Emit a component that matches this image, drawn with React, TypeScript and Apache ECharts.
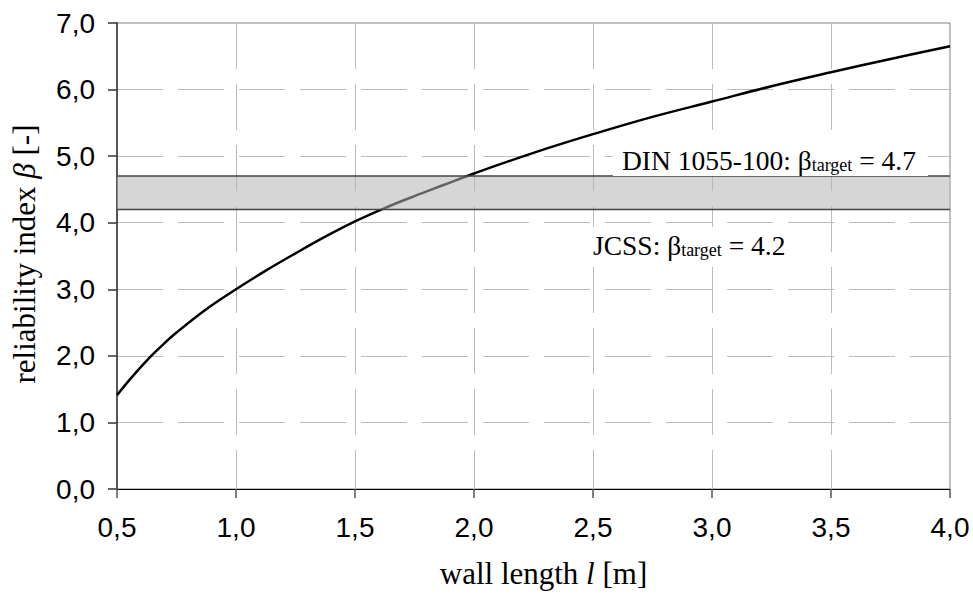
import React, { useEffect, useRef } from "react";
import * as echarts from "echarts";

const wallLength = [0.5, 0.5625, 0.625, 0.6875, 0.75, 0.875, 1.0, 1.125, 1.25, 1.375, 1.5, 1.625, 1.75, 1.875, 2.0, 2.25, 2.5, 2.75, 3.0, 3.25, 3.5, 3.75, 4.0];
const beta = [1.41, 1.68, 1.93, 2.15, 2.35, 2.70, 3.0, 3.28, 3.54, 3.79, 4.02, 4.22, 4.4, 4.57, 4.74, 5.05, 5.33, 5.59, 5.82, 6.05, 6.26, 6.46, 6.65];
const bandRange = [0.5, 4.0];
const betaJCSS = 4.2;
const betaDIN = 4.7;
const xTicks = { min: 0.5, max: 4.0, interval: 0.5 };
const yTicks = { min: 0, max: 7, interval: 1 };

const SERIF = "'Liberation Serif', 'Times New Roman', serif";
const SANS = "'Liberation Sans', Arial, sans-serif";

const fmt = (v: number) => v.toFixed(1).replace(".", ",");

export default function App() {
  const ref = useRef<HTMLDivElement>(null);
  useEffect(() => {
    if (!ref.current) return;
    const chart = echarts.init(ref.current, null, { renderer: "svg" });
    const richLabel = {
      n: { fontFamily: SERIF, fontSize: 27.5, lineHeight: 30, color: "#000", verticalAlign: "bottom" },
      s: { fontFamily: SERIF, fontSize: 18, lineHeight: 16, color: "#000", verticalAlign: "bottom" },
    };
    chart.setOption({
      animation: false,
      backgroundColor: "#fff",
      grid: {
        left: 117,
        right: 23,
        top: 23,
        bottom: 96,
        show: true,
        borderColor: "#808080",
        borderWidth: 1,
        backgroundColor: "transparent",
      },
      xAxis: {
        type: "value",
        min: xTicks.min,
        max: xTicks.max,
        interval: xTicks.interval,
        name: "{a|wall length }{i|l}{a| [m]}",
        nameLocation: "middle",
        nameGap: 69,
        nameTextStyle: {
          padding: [0, 0, 0, 20],
          rich: {
            a: { fontFamily: SERIF, fontSize: 31, color: "#000" },
            i: { fontFamily: SERIF, fontSize: 31, fontStyle: "italic", color: "#000" },
          },
        },
        axisLine: { show: true, onZero: false, lineStyle: { color: "#000", width: 1 } },
        axisTick: { show: true, inside: false, length: 9, lineStyle: { color: "#555", width: 1.5 } },
        axisLabel: { fontFamily: SANS, fontSize: 28, color: "#000", margin: 24, formatter: fmt },
        splitLine: {
          show: true,
          showMinLine: false,
          showMaxLine: false,
          lineStyle: { color: "#bbbbbb", width: 1, type: [46, 15] },
        },
      },
      yAxis: {
        type: "value",
        min: yTicks.min,
        max: yTicks.max,
        interval: yTicks.interval,
        name: "{a|reliability index }{i|β}{a| [-]}",
        nameLocation: "middle",
        nameGap: 77,
        nameTextStyle: {
          padding: [0, 0, 0, 4],
          rich: {
            a: { fontFamily: SERIF, fontSize: 31, color: "#000" },
            i: { fontFamily: SERIF, fontSize: 31, fontStyle: "italic", color: "#000" },
          },
        },
        axisLine: { show: true, onZero: false, lineStyle: { color: "#555", width: 2 } },
        axisTick: { show: true, inside: false, length: 9, lineStyle: { color: "#333", width: 1.5 } },
        axisLabel: { fontFamily: SANS, fontSize: 28, color: "#000", margin: 22, formatter: fmt },
        splitLine: {
          show: true,
          showMinLine: false,
          showMaxLine: false,
          lineStyle: { color: "#bbbbbb", width: 1, type: [46, 15] },
        },
      },
      series: [
        {
          type: "line",
          data: wallLength.map((x, i) => [x, beta[i]]),
          smooth: 0.4,
          showSymbol: false,
          symbol: "none",
          lineStyle: { color: "#000", width: 2.5 },
          z: 2,
        },
        {
          type: "custom",
          z: 3,
          silent: true,
          data: [[bandRange[0], betaJCSS, bandRange[1], betaDIN]],
          encode: { x: [0, 2], y: [1, 3] },
          renderItem: (params: any, api: any) => {
            const p1 = api.coord([api.value(0), api.value(3)]);
            const p2 = api.coord([api.value(2), api.value(1)]);
            return {
              type: "group",
              children: [
                {
                  type: "rect",
                  shape: { x: p1[0], y: p1[1], width: p2[0] - p1[0], height: p2[1] - p1[1] },
                  style: { fill: "rgba(180,180,180,0.55)" },
                },
                {
                  type: "line",
                  shape: { x1: p1[0], y1: p1[1], x2: p2[0], y2: p1[1] },
                  style: { stroke: "#444", lineWidth: 1.5 },
                },
                {
                  type: "line",
                  shape: { x1: p1[0], y1: p2[1], x2: p2[0], y2: p2[1] },
                  style: { stroke: "#444", lineWidth: 1.5 },
                },
              ],
            };
          },
        },
      ],
      graphic: [
        {
          type: "text",
          z: 10,
          style: {
            x: 613,
            y: 142,
            text: "{n|DIN 1055-100: β}{s|target}{n| = 4.7}",
            rich: richLabel,
            backgroundColor: "#fff",
            padding: [2, 12, 2, 9],
          },
        },
        {
          type: "text",
          z: 10,
          style: {
            x: 586,
            y: 227,
            text: "{n|JCSS: β}{s|target}{n| = 4.2}",
            rich: richLabel,
            backgroundColor: "#fff",
            padding: [2, 10, 2, 7],
          },
        },
      ],
    });
    return () => chart.dispose();
  }, []);
  return <div ref={ref} style={{ position: "absolute", left: 0, top: 0, width: 973, height: 594 }} />;
}
